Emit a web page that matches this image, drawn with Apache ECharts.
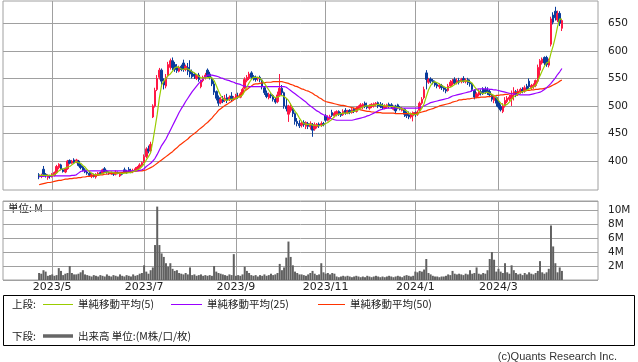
<!DOCTYPE html>
<html><head><meta charset="utf-8">
<script src="https://cdn.jsdelivr.net/npm/echarts@6/dist/echarts.min.js"></script>
<style>html,body{margin:0;padding:0;background:#fff;}#c{width:638px;height:362px;}</style>
</head><body><div id="c"></div>
<script>
// Trading days shown, per month
const monthDays = [
 ['2023/4',[21,24,25,26,27,28]],
 ['2023/5',[1,2,8,9,10,11,12,15,16,17,18,19,22,23,24,25,26,29,30,31]],
 ['2023/6',[1,2,5,6,7,8,9,12,13,14,15,16,19,20,21,22,23,26,27,28,29,30]],
 ['2023/7',[3,4,5,6,7,10,11,12,13,14,18,19,20,21,24,25,26,27,28,31]],
 ['2023/8',[1,2,3,4,7,8,9,10,14,15,16,17,18,21,22,23,24,25,28,29,30,31]],
 ['2023/9',[1,4,5,6,7,8,11,12,13,14,15,19,20,21,22,25,26,27,28,29]],
 ['2023/10',[2,3,4,5,6,10,11,12,13,16,17,18,19,20,23,24,25,26,27,30,31]],
 ['2023/11',[1,2,6,7,8,9,10,13,14,15,16,17,20,21,22,24,27,28,29,30]],
 ['2023/12',[1,4,5,6,7,8,11,12,13,14,15,18,19,20,21,22,25,26,27,28,29]],
 ['2024/1',[4,5,9,10,11,12,15,16,17,18,19,22,23,24,25,26,29,30,31]],
 ['2024/2',[1,2,5,6,7,8,9,13,14,15,16,19,20,21,22,26,27,28,29]],
 ['2024/3',[1,4,5,6,7,8,11,12,13,14,15,18,19,21,22,25,26,27,28,29]],
 ['2024/4',[1,2,3,4,5,8,9,10,11,12]]
];
const opens = [
375,372,385,376,370,373,372,374,379,388,
393,384,380,386,401,396,402,398,400,392,
389,384,380,378,372,375,371,376,379,378,
386,382,379,377,378,376,379,373,378,384,
381,385,382,380,383,385,389,392,398,408,
422,419,480,500,530,552,565,545,536,555,
570,582,575,570,563,572,578,566,570,565,
562,558,550,556,535,546,552,565,558,550,
540,526,515,506,514,510,515,511,518,512,
515,518,516,522,532,546,550,560,553,552,
549,552,547,533,523,515,520,519,512,508,
520,532,524,500,485,492,495,486,472,468,
465,470,463,468,462,466,458,462,467,465,
468,482,474,478,488,482,484,490,486,484,
492,487,492,488,494,490,495,497,498,505,
500,496,499,500,502,506,503,501,496,498,
503,502,494,500,502,497,492,494,486,484,
480,482,488,485,492,505,515,560,543,549,
546,543,539,535,537,533,530,528,536,540,
548,542,546,544,550,544,548,543,540,528,
516,520,526,531,530,528,526,519,510,515,
506,499,490,500,508,512,514,520,526,520,
526,530,527,536,545,533,535,537,545,565,
578,588,588,574,612,665,672,656,668,641];
const closes = [
371,374,376,373,374,372,376,379,390,394,
385,381,386,400,396,400,397,402,392,388,
383,380,378,374,375,372,376,378,377,384,
381,380,377,379,376,380,378,377,376,380,
379,381,380,383,386,389,393,397,408,422,
418,430,500,528,550,565,545,538,552,575,
582,570,566,564,570,566,566,572,563,558,
553,554,556,548,545,552,556,556,552,540,
525,514,505,512,508,514,510,516,512,515,
519,516,522,530,548,552,558,552,550,548,
551,547,535,524,517,521,518,512,507,520,
532,524,500,495,500,498,486,472,468,464,
469,466,470,463,468,456,466,467,464,468,
466,474,478,481,483,487,490,485,483,490,
487,491,488,493,490,496,499,502,503,499,
497,501,503,504,505,500,499,497,500,502,
499,498,498,491,497,494,496,485,482,480,
485,488,484,489,505,512,530,548,548,545,
542,538,536,538,533,530,527,536,543,545,
542,546,543,548,545,547,542,540,530,516,
522,527,523,524,525,524,520,512,516,505,
498,493,500,510,514,516,520,526,519,527,
530,526,533,530,535,537,538,546,570,582,
585,578,575,582,658,652,660,668,650,655];
const lows = [
367,369,374,370,366,368,370,372,377,385,
383,379,378,384,394,394,395,396,390,385,
381,378,375,371,369,370,368,373,375,376,
379,377,375,375,373,374,376,371,374,378,
377,379,378,378,380,383,386,390,396,405,
414,416,478,497,527,548,535,530,532,552,
566,565,562,560,561,563,562,563,556,552,
550,549,547,544,532,543,548,552,548,536,
520,510,500,503,505,507,505,509,508,510,
512,513,514,520,530,543,547,548,546,544,
545,543,530,520,514,512,514,508,504,505,
517,520,495,490,471,488,480,466,463,460,
461,462,458,458,457,444,455,459,460,462,
463,471,472,475,480,479,481,482,480,482,
484,485,485,486,487,488,493,495,494,496,
494,493,496,497,499,496,496,494,494,495,
496,495,492,486,494,492,490,480,478,476,
477,472,480,482,490,502,512,530,540,541,
539,535,532,531,529,526,523,526,534,537,
539,539,539,541,542,541,538,535,526,512,
514,517,519,520,522,520,516,508,505,499,
495,490,487,497,505,509,500,510,516,518,
522,523,524,527,531,529,531,534,541,553,
575,574,571,570,608,648,655,652,645,636];
const highs = [
378,377,391,378,376,375,378,381,393,396,
395,386,388,402,403,402,405,404,402,395,
391,387,383,381,378,377,378,380,381,386,
389,384,381,381,380,383,381,379,380,388,
384,389,386,386,389,391,396,399,412,425,
428,435,503,533,556,569,568,550,558,580,
586,588,580,576,573,575,584,575,578,583,
566,560,558,560,548,555,560,568,562,553,
545,528,519,516,518,520,522,519,525,518,
522,524,525,533,552,556,562,563,556,555,
553,555,549,536,528,524,523,521,515,526,
558,538,526,514,502,505,499,488,478,474,
472,474,472,471,472,469,470,469,470,472,
471,485,483,484,493,490,492,492,489,494,
496,493,494,496,497,499,501,505,505,508,
506,503,505,506,507,508,507,505,503,504,
506,505,501,502,504,500,498,496,490,490,
488,490,490,492,508,516,535,565,551,552,
549,546,542,541,540,536,533,540,547,549,
552,550,551,551,554,550,551,548,542,530,
525,530,530,534,535,534,530,522,519,517,
511,503,505,516,518,520,528,534,529,531,
533,534,537,540,550,540,541,548,575,585,
588,590,591,586,662,670,680,673,672,658];
const ma5 = [
374,374,374,374,374,374,374,375,378,382,
385,386,387,389,390,393,396,399,397,396,
392,389,384,381,378,376,375,375,376,377,
379,380,380,380,379,378,378,378,377,378,
378,379,379,381,382,384,386,390,395,402,
408,415,436,460,485,515,538,545,550,555,
558,563,569,571,570,567,566,568,567,565,
562,560,557,554,551,551,551,551,552,551,
546,537,527,519,513,511,510,512,512,513,
514,516,517,520,527,534,542,548,552,552,
552,550,546,541,535,529,523,518,515,516,
518,519,517,514,510,503,496,490,485,478,
472,468,467,466,467,465,465,464,464,464,
466,468,470,473,476,481,484,485,486,487,
487,487,488,490,490,492,493,496,498,500,
500,500,501,501,502,503,502,501,500,500,
499,499,499,498,497,496,495,493,491,487,
486,484,484,485,490,496,504,517,529,537,
543,544,542,540,537,535,533,533,534,536,
539,542,544,545,545,546,545,544,541,535,
530,527,524,522,524,525,523,521,519,515,
510,505,502,501,503,507,512,517,519,522,
524,526,527,529,531,532,535,537,545,555,
564,572,578,580,596,609,625,644,658,657];
const ma25 = [
372,372,372,373,373,373,373,373,373,373,
373,373,373,373,373,374,374,375,378,381,
382,382,382,382,382,382,382,382,382,382,
382,382,382,382,382,382,382,382,382,382,
382,382,382,382,382,382,383,384,386,390,
393,396,400,405,412,420,428,434,440,448,
456,464,472,480,488,495,501,508,514,520,
526,531,536,541,545,549,553,556,556,556,
555,554,553,551,550,548,547,546,544,543,
541,540,539,537,536,535,535,535,535,535,
535,535,535,535,535,535,535,535,535,535,
535,535,535,534,531,528,525,522,519,516,
513,510,507,503,500,497,494,491,489,486,
484,482,480,478,476,475,474,474,474,474,
474,474,474,474,475,476,477,478,479,480,
482,483,485,487,489,491,493,494,495,496,
496,496,496,496,496,496,496,496,496,496,
496,496,496,496,497,498,500,502,504,506,
507,508,509,510,511,512,513,514,516,518,
519,520,521,522,523,524,525,526,528,529,
530,531,531,531,531,531,530,530,529,529,
528,527,526,525,524,523,522,522,521,521,
520,520,520,520,520,521,522,523,524,525,
527,530,533,537,541,546,551,557,562,568];
const ma50 = [
357,358,359,360,361,361,362,363,364,365,
365,366,367,367,368,368,369,369,370,370,
371,371,372,372,373,373,374,374,375,375,
376,376,377,377,378,378,378,379,379,380,
380,380,381,381,381,382,382,382,383,384,
386,388,390,393,396,399,402,405,408,411,
414,417,421,424,428,431,434,437,440,444,
447,450,453,457,460,463,467,470,474,478,
483,487,492,495,498,501,503,506,508,511,
514,517,520,523,527,530,533,536,539,540,
540,541,542,542,543,543,543,544,544,544,
544,544,543,542,541,539,538,536,535,533,
531,530,528,527,525,523,520,518,515,513,
510,508,507,506,505,504,503,502,501,501,
500,499,498,497,496,495,494,493,492,491,
490,490,489,489,488,488,488,487,487,487,
487,487,487,486,486,486,486,486,486,486,
486,486,487,487,488,489,490,491,493,494,
495,497,498,500,501,502,503,504,505,507,
508,509,511,511,512,512,513,513,514,514,
515,515,516,516,516,517,517,518,518,519,
519,520,520,521,521,522,523,523,524,525,
525,526,527,528,528,529,529,530,530,531,
531,532,533,534,536,538,540,542,545,547];
const volumes = [
1.0,0.9,1.4,1.2,0.6,0.7,0.8,0.6,0.7,1.7,
1.3,0.7,0.9,1.0,2.0,1.0,0.8,0.8,0.9,1.1,
1.4,0.8,0.7,0.6,0.5,0.7,0.6,0.5,0.7,0.6,
0.5,0.8,0.6,0.5,0.7,0.6,0.5,0.8,0.6,0.5,
0.7,0.6,0.5,0.8,0.6,0.7,0.9,1.0,2.1,1.2,
0.9,1.4,1.8,5.0,10.5,5.0,3.8,3.3,2.4,1.9,
2.4,1.6,1.3,1.4,1.0,0.9,0.8,1.0,0.8,1.8,
0.7,0.8,0.6,0.7,0.8,0.6,0.7,0.6,0.7,0.6,
2.0,1.2,1.0,0.9,0.8,0.7,0.6,0.8,0.7,3.7,
0.6,0.7,0.6,0.8,1.9,1.3,1.0,0.7,0.6,0.7,
0.5,0.7,0.6,0.8,0.6,0.7,0.9,0.7,0.8,1.0,
2.3,1.4,1.8,3.2,5.5,3.3,2.1,1.2,1.0,0.8,
0.8,0.7,0.6,0.8,1.0,1.3,0.9,0.7,0.8,2.4,
1.1,0.9,1.0,0.8,1.0,0.9,0.5,0.4,0.5,0.6,
0.5,0.6,0.5,0.4,0.5,0.6,0.5,0.4,0.5,0.4,
0.6,0.5,0.4,0.5,0.6,0.5,0.4,0.5,0.4,0.5,
0.6,0.5,0.4,0.5,0.6,0.5,0.4,0.6,0.7,0.6,
0.5,0.6,1.2,1.1,1.3,1.2,1.5,3.0,1.0,0.8,
0.6,0.5,0.5,0.4,0.5,0.5,0.6,0.8,0.7,1.3,
0.9,0.8,0.9,0.8,0.7,0.9,0.8,1.4,0.9,1.0,
1.8,0.9,0.8,1.0,0.9,1.4,3.0,4.0,2.9,1.2,
1.6,1.2,1.0,2.4,1.1,0.9,2.1,1.4,1.0,0.8,
0.9,0.7,1.0,0.8,1.1,0.9,0.8,1.0,1.3,2.7,
1.1,0.9,1.1,1.6,7.8,4.8,2.4,1.1,1.8,1.3];
const priceTicks = [400,450,500,550,600,650];
const volTicks = [2,4,6,8,10];

// ---- build category axis (padding slots on both sides of the data) ----
const PAD = 16;
const dates = [];
const labelIdx = new Set();
monthDays.forEach(function (md) {
  const mon = +md[0].split('/')[1];
  md[1].forEach(function (d, j) {
    if (j === 0 && mon % 2 === 1) labelIdx.add(PAD + dates.length);
    dates.push(md[0] + '/' + d);
  });
});
const cats = [];
for (let k = 0; k < PAD; k++) cats.push('L' + k);
dates.forEach(function (d) { cats.push(d); });
for (let k = 0; k < PAD; k++) cats.push('R' + k);
const blank = new Array(PAD).fill('-');
const blank4 = new Array(PAD).fill(['-','-','-','-']);
const candle = blank4.concat(dates.map(function (d, i) { return [opens[i], closes[i], lows[i], highs[i]]; })).concat(blank4);
const padLine = function (a) { return blank.concat(a).concat(blank); };

const GRID = '#a0a0a0';
const monthInterval = function (index) { return labelIdx.has(index); };
const xBase = {
  type: 'category', data: cats, boundaryGap: true,
  axisLine: {show: false}, axisTick: {show: false},
  splitLine: {show: true, interval: monthInterval, alignWithLabel: true, lineStyle: {color: GRID, width: 1}}
};
const UP = '#ff1744', DOWN = '#0a3c9c';

const chart = echarts.init(document.getElementById('c'), null, {renderer: 'canvas'});
chart.setOption({
  animation: false,
  backgroundColor: '#fff',
  grid: [
    {left: 3, top: 1, width: 595, height: 189, show: true, borderColor: GRID, borderWidth: 1, backgroundColor: 'transparent'},
    {left: 3, top: 201, width: 595, height: 79, show: true, borderColor: GRID, borderWidth: 1, backgroundColor: 'transparent'}
  ],
  xAxis: [
    Object.assign({}, xBase, {gridIndex: 0, axisLabel: {show: false}}),
    Object.assign({}, xBase, {gridIndex: 1, axisLabel: {
      show: true, interval: monthInterval, margin: 2,
      fontFamily: 'DejaVu Sans', fontSize: 11, color: '#222',
      formatter: function (v) { return v.split('/').slice(0, 2).join('/'); }
    }})
  ],
  yAxis: [
    {type: 'value', gridIndex: 0, position: 'right', min: 347.4, max: 690.5, scale: true,
     axisLine: {show: false}, axisTick: {show: false}, splitLine: {show: false},
     axisLabel: {margin: 10, fontFamily: 'DejaVu Sans', fontSize: 10.5, color: '#222',
       showMinLabel: false, showMaxLabel: false,
       formatter: function (v) { return priceTicks.indexOf(v) >= 0 ? String(v) : ''; }}},
    {type: 'value', gridIndex: 1, position: 'right', min: 0, max: 11.3, interval: 2,
     axisLine: {show: false}, axisTick: {show: false},
     splitLine: {show: true, lineStyle: {color: GRID, width: 1}},
     axisLabel: {margin: 10, fontFamily: 'DejaVu Sans', fontSize: 10.5, color: '#222',
       showMinLabel: false, showMaxLabel: false,
       formatter: function (v) { return volTicks.indexOf(v) >= 0 ? v + 'M' : ''; }}}
  ],
  series: [
    {type: 'candlestick', xAxisIndex: 0, yAxisIndex: 0, data: candle, barWidth: 2,
     itemStyle: {color: UP, color0: DOWN, borderColor: UP, borderColor0: DOWN, borderWidth: 1},
     markLine: {silent: true, z: 1, symbol: ['none', 'none'], label: {show: false},
       lineStyle: {color: GRID, width: 1, type: 'solid'}, emphasis: {disabled: true},
       data: priceTicks.map(function (v) { return {yAxis: v}; })}},
    {type: 'line', xAxisIndex: 0, yAxisIndex: 0, data: padLine(ma50), symbol: 'none', silent: true,
     lineStyle: {color: '#ff3300', width: 1.2}},
    {type: 'line', xAxisIndex: 0, yAxisIndex: 0, data: padLine(ma25), symbol: 'none', silent: true,
     lineStyle: {color: '#9900ff', width: 1.2}},
    {type: 'line', xAxisIndex: 0, yAxisIndex: 0, data: padLine(ma5), symbol: 'none', silent: true,
     lineStyle: {color: '#99cc00', width: 1.2}},
    {type: 'bar', xAxisIndex: 1, yAxisIndex: 1, data: padLine(volumes), barWidth: 2,
     itemStyle: {color: '#606060'}, silent: true}
  ],
  graphic: [
    {type: 'text', left: 8, top: 203, style: {text: '単位: M', font: '10.5px "Noto Sans CJK JP"', fill: '#222'}},
    {type: 'rect', shape: {x: 3.5, y: 295.5, width: 631, height: 50}, style: {fill: 'none', stroke: '#000', lineWidth: 1}},
    {type: 'text', x: 12, y: 304, style: {text: '上段:', font: '10.5px "Noto Sans CJK JP"', fill: '#222', verticalAlign: 'middle'}},
    {type: 'line', shape: {x1: 43, y1: 304.5, x2: 73, y2: 304.5}, style: {stroke: '#99cc00', lineWidth: 1}},
    {type: 'text', x: 78, y: 304, style: {text: '単純移動平均(5)', font: '10.5px "Noto Sans CJK JP"', fill: '#222', verticalAlign: 'middle'}},
    {type: 'line', shape: {x1: 171, y1: 304.5, x2: 202, y2: 304.5}, style: {stroke: '#9900ff', lineWidth: 1}},
    {type: 'text', x: 207, y: 304, style: {text: '単純移動平均(25)', font: '10.5px "Noto Sans CJK JP"', fill: '#222', verticalAlign: 'middle'}},
    {type: 'line', shape: {x1: 318, y1: 304.5, x2: 345, y2: 304.5}, style: {stroke: '#ff3300', lineWidth: 1}},
    {type: 'text', x: 350, y: 304, style: {text: '単純移動平均(50)', font: '10.5px "Noto Sans CJK JP"', fill: '#222', verticalAlign: 'middle'}},
    {type: 'text', x: 12, y: 336, style: {text: '下段:', font: '10.5px "Noto Sans CJK JP"', fill: '#222', verticalAlign: 'middle'}},
    {type: 'line', shape: {x1: 43, y1: 336, x2: 73, y2: 336}, style: {stroke: '#666666', lineWidth: 3.5}},
    {type: 'text', x: 78, y: 336, style: {text: '出来高 単位:(M株/口/枚)', font: '10.5px "Noto Sans CJK JP"', fill: '#222', verticalAlign: 'middle'}},
    {type: 'text', x: 617, y: 357, style: {text: '(c)Quants Research Inc.', font: '11px "Liberation Sans"', fill: '#333', align: 'right', verticalAlign: 'middle'}}
  ]
});
</script></body></html>
